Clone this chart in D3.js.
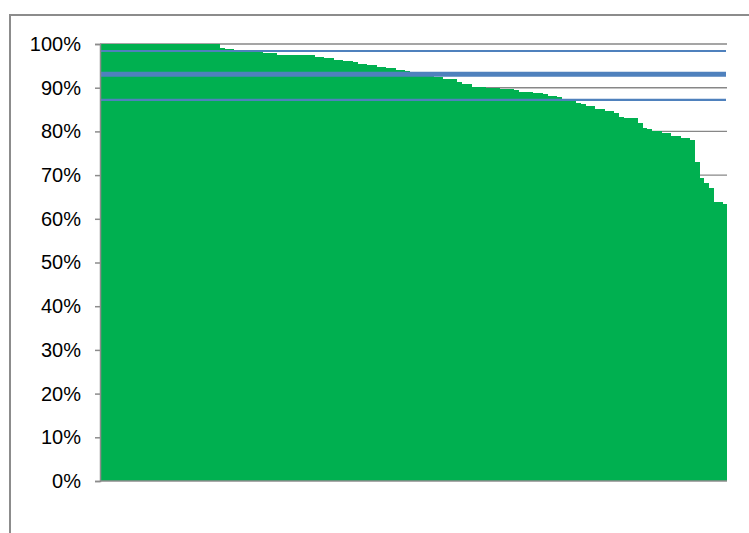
<!DOCTYPE html>
<html>
<head>
<meta charset="utf-8">
<script src="https://cdn.jsdelivr.net/npm/d3@7"></script>
<style>
  html, body { margin: 0; padding: 0; background: #fff; overflow: hidden; }
  svg { display: block; }
  .axis text { font-family: "Liberation Sans", Arial, sans-serif; font-size: 20px; fill: #000; }
</style>
</head>
<body>
<svg id="chart" width="749" height="533"></svg>
<script>
// Share per unit, sorted from highest to lowest
const values = [
  1, 1, 1, 1, 1, 1, 1, 1, 1, 1, 1, 1, 1, 1, 1, 1, 1, 1, 1, 1, 1, 1, 1, 1, 1,
  0.990, 0.989, 0.988, 0.987, 0.986, 0.985, 0.984,
  0.982, 0.982,
  0.979, 0.979, 0.979,
  0.975, 0.975, 0.975, 0.975, 0.975, 0.975, 0.975, 0.975,
  0.970, 0.970, 0.967, 0.967, 0.964, 0.964, 0.961, 0.961, 0.959,
  0.955, 0.955, 0.952, 0.952, 0.948, 0.948, 0.945, 0.945, 0.941, 0.941, 0.938,
  0.936, 0.934, 0.932, 0.930, 0.927,
  0.924, 0.924, 0.919, 0.919, 0.919, 0.914, 0.909, 0.908,
  0.901, 0.901, 0.901, 0.900, 0.900, 0.899, 0.897, 0.897, 0.896, 0.895,
  0.891, 0.891, 0.890, 0.889, 0.888, 0.885, 0.881, 0.881, 0.878, 0.874,
  0.871, 0.871, 0.866, 0.863, 0.859, 0.859, 0.851, 0.851, 0.847, 0.847,
  0.841, 0.834, 0.830, 0.830, 0.830, 0.819, 0.807, 0.806,
  0.801, 0.801, 0.796, 0.796, 0.790, 0.790, 0.786, 0.785, 0.780,
  0.729, 0.694, 0.681, 0.671, 0.639, 0.639, 0.634
];
const categories = values.map((_, i) => "U" + (i + 1));

// Reference levels (upper bound, average, lower bound)
const refLevels = [0.984, 0.931, 0.872];

// Y axis ticks
const tickValues = [0, 0.1, 0.2, 0.3, 0.4, 0.5, 0.6, 0.7, 0.8, 0.9, 1.0];

const svg = d3.select("#chart");
const plot = { left: 100, right: 727, top: 44, bottom: 481 };

// Outer chart frame
svg.append("rect")
  .attr("x", 10).attr("y", 15)
  .attr("width", 900).attr("height", 700)
  .attr("fill", "#fff")
  .attr("stroke", "#8c8c8c")
  .attr("stroke-width", 2);

const x = d3.scaleBand()
  .domain(categories)
  .range([plot.left, plot.right])
  .padding(0);

const y = d3.scaleLinear()
  .domain([0, 1])
  .range([plot.bottom, plot.top]);

// Horizontal gridlines
svg.append("g")
  .selectAll("line")
  .data(tickValues.filter(d => d > 0))
  .join("line")
  .attr("x1", plot.left).attr("x2", plot.right)
  .attr("y1", d => y(d)).attr("y2", d => y(d))
  .attr("stroke", "#878787")
  .attr("stroke-width", 1.4);

// Bars (adjacent, no gaps; overlap by a pixel to avoid seams)
svg.append("g")
  .attr("shape-rendering", "crispEdges")
  .selectAll("rect")
  .data(values)
  .join("rect")
  .attr("x", (d, i) => x(categories[i]))
  .attr("width", (d, i) => Math.min(x(categories[i]) + x.bandwidth() + 1, plot.right) - x(categories[i]))
  .attr("y", d => y(d))
  .attr("height", d => y(0) - y(d))
  .attr("fill", "#00b050");

// Reference lines
const refWidths = [2.2, 5, 2.2];
svg.append("g")
  .selectAll("line")
  .data(refLevels)
  .join("line")
  .attr("x1", plot.left).attr("x2", plot.right - 1)
  .attr("y1", d => y(d)).attr("y2", d => y(d))
  .attr("stroke", "#4f81bd")
  .attr("stroke-width", (d, i) => refWidths[i]);

// Y axis
const yAxis = svg.append("g")
  .attr("class", "axis")
  .attr("transform", `translate(${plot.left},0)`)
  .call(d3.axisLeft(y)
    .tickValues(tickValues)
    .tickFormat(d3.format(".0%"))
    .tickSize(5)
    .tickPadding(14));
yAxis.select(".domain").attr("stroke", "#8c8c8c").attr("stroke-width", 1.5);
yAxis.selectAll(".tick line").attr("stroke", "#8c8c8c").attr("stroke-width", 1.5);

// X axis baseline
svg.append("line")
  .attr("x1", plot.left).attr("x2", plot.right)
  .attr("y1", y(0)).attr("y2", y(0))
  .attr("stroke", "#8c8c8c")
  .attr("stroke-width", 1.5);
</script>
</body>
</html>
